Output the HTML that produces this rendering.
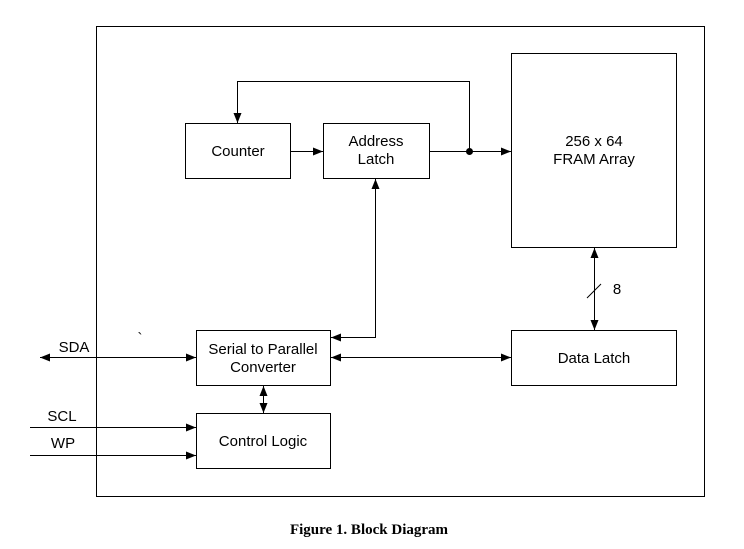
<!DOCTYPE html>
<html><head><style>body{margin:0;background:#fff}</style></head><body>
<svg width="744" height="544" xmlns="http://www.w3.org/2000/svg" font-family="Liberation Sans, sans-serif" font-size="15">
<defs><marker id="a" markerWidth="10" markerHeight="8" refX="10" refY="4" orient="auto-start-reverse" markerUnits="userSpaceOnUse"><path d="M0,0L10,4L0,8z" fill="#000"/></marker></defs>
<g fill="none" stroke="#000" stroke-width="1">
<rect x="96.5" y="26.5" width="608" height="470"/>
<rect x="185.5" y="123.5" width="105" height="55"/>
<rect x="323.5" y="123.5" width="106" height="55"/>
<rect x="511.5" y="53.5" width="165" height="194"/>
<rect x="511.5" y="330.5" width="165" height="55"/>
<rect x="196.5" y="330.5" width="134" height="55"/>
<rect x="196.5" y="413.5" width="134" height="55"/>
<path d="M290 151.5H323" marker-end="url(#a)"/>
<path d="M429 151.5H511" marker-end="url(#a)"/>
<path d="M469.5 151V81.5H237.5V123" marker-end="url(#a)"/>
<path d="M375.5 179V337.5H331" marker-start="url(#a)" marker-end="url(#a)"/>
<path d="M40 357.5H196" marker-start="url(#a)" marker-end="url(#a)"/>
<path d="M331 357.5H511" marker-start="url(#a)" marker-end="url(#a)"/>
<path d="M594.5 248V330" marker-start="url(#a)" marker-end="url(#a)"/>
<path d="M587 298L601 284"/>
<path d="M263.5 386V413" marker-start="url(#a)" marker-end="url(#a)"/>
<path d="M30 427.5H196" marker-end="url(#a)"/>
<path d="M30 455.5H196" marker-end="url(#a)"/>
</g>
<circle cx="469.5" cy="151.5" r="3.5" fill="#000"/>
<g text-anchor="middle" fill="#000">
<text x="238" y="156">Counter</text>
<text x="376" y="146">Address</text><text x="376" y="164">Latch</text>
<text x="594" y="146">256 x 64</text><text x="594" y="164">FRAM Array</text>
<text x="594" y="363">Data Latch</text>
<text x="263" y="354">Serial to Parallel</text><text x="263" y="372">Converter</text>
<text x="263" y="446">Control Logic</text>
<text x="74" y="352">SDA</text>
<text x="62" y="421">SCL</text>
<text x="63" y="448">WP</text>
<text x="617" y="294">8</text>
<text x="140" y="343">`</text>
<text x="369" y="534" font-family="Liberation Serif, serif" font-weight="bold" font-size="15">Figure 1. Block Diagram</text>
</g>
</svg>
</body></html>
